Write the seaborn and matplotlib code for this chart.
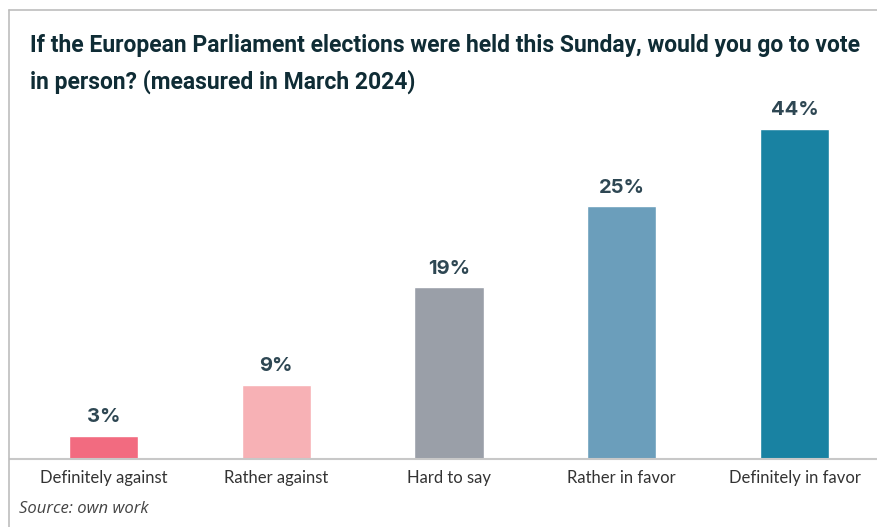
import matplotlib
matplotlib.use("Agg")
import matplotlib.pyplot as plt
import seaborn as sns
import pandas as pd
from matplotlib.lines import Line2D

categories = ["Definitely against", "Rather against", "Hard to say", "Rather in favor", "Definitely in favor"]
values = [3, 9, 19, 25, 44]                      # printed labels (%)
bar_heights = [3.1, 9.9, 22.9, 33.7, 44.0]       # drawn heights as they appear in the reference
colors = ["#f26b80", "#f7b1b5", "#9a9fa8", "#6b9ebb", "#1982a2"]
title_lines = ["If the European Parliament elections were held this Sunday, would you go to vote",
               "in person? (measured in March 2024)"]
source_text = "Source: own work"

sns.set_theme(style="white")
plt.rcParams["font.family"] = ["Lato", "DejaVu Sans"]

df = pd.DataFrame({"category": categories, "height": bar_heights})

fig = plt.figure(figsize=(8.78, 5.27), dpi=100)
base_px = 459
top_px = 20
ax = fig.add_axes([10 / 878, (527 - base_px) / 527, 1 - 10 / 878, (base_px - top_px) / 527])

sns.barplot(data=df, x="category", y="height", hue="category", palette=colors,
            legend=False, width=0.40, ax=ax, saturation=1)

ppu = (base_px - 129) / 44.0
ax.set_ylim(0, (base_px - top_px) / ppu)
ax.set_xlim((10 - 103.5) / 172.75, (878 - 103.5) / 172.75)

for i, (h, v) in enumerate(zip(bar_heights, values)):
    ax.annotate(f"{v}%", xy=(i, h), xytext=(0, 7), textcoords="offset points",
                ha="center", va="bottom", fontsize=14.5, fontweight="bold", color="#2e4753",
                family=["Inter", "DejaVu Sans"])

ax.set_xlabel("")
ax.set_ylabel("")
ax.set_yticks([])
ax.tick_params(axis="x", length=0, pad=8, labelsize=12, labelcolor="#333333")
for s in ["top", "right", "left"]:
    ax.spines[s].set_visible(False)
ax.spines["bottom"].set_color("#c8c8c8")
ax.spines["bottom"].set_linewidth(1.5)

for y_px, line in zip([45, 82], title_lines):
    fig.text(30 / 878, 1 - y_px / 527, line, ha="left", va="center", fontsize=16.5,
             fontweight="bold", color="#0f2c35", family=["Roboto", "DejaVu Sans"])
fig.text(19 / 878, 1 - 509 / 527, source_text, ha="left", va="center", fontsize=12,
         fontstyle="italic", color="#444444", family=["Open Sans", "DejaVu Sans"])

fig.add_artist(Line2D([9 / 878, 9 / 878], [0, 1 - 10 / 527], transform=fig.transFigure,
                      color="#bdbdbd", linewidth=1.2))
fig.add_artist(Line2D([9 / 878, 1], [1 - 10 / 527, 1 - 10 / 527], transform=fig.transFigure,
                      color="#bdbdbd", linewidth=1.2))

fig.savefig("out.png", dpi=100)
